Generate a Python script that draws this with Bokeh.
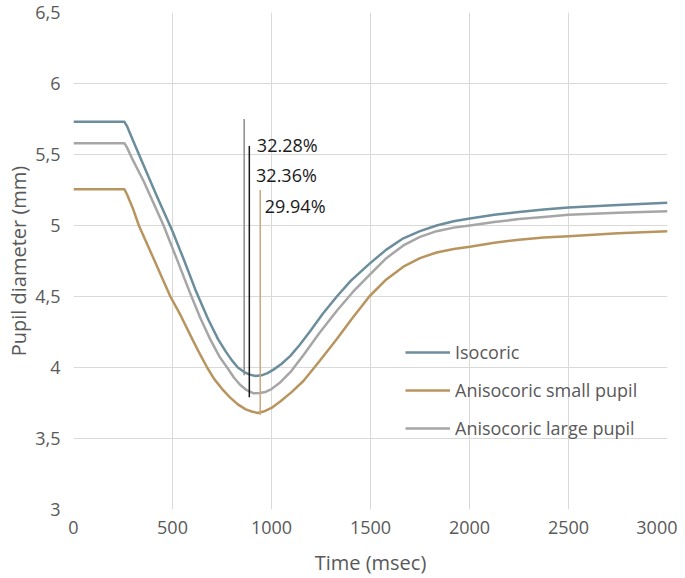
from bokeh.plotting import figure
from bokeh.models import Legend, LegendItem, FixedTicker, ColumnDataSource
from bokeh.core.properties import value
from bokeh.embed import file_html
from bokeh.resources import INLINE

# ---- data ----
iso_t = [0, 257, 270, 300, 355, 420, 500, 560, 615, 680, 730, 770, 800, 830, 860, 890, 920, 950, 980, 1010, 1050,
         1094, 1140, 1195, 1260, 1330, 1400, 1494, 1580, 1666, 1750, 1834, 1920, 2002, 2125, 2250, 2375, 2500, 2750, 3000]
iso_v = [5.73, 5.73, 5.70, 5.60, 5.42, 5.21, 4.96, 4.75, 4.55, 4.34, 4.20, 4.11, 4.05, 4.00, 3.97, 3.95, 3.94, 3.945, 3.96, 3.985, 4.025,
         4.08, 4.155, 4.255, 4.38, 4.50, 4.61, 4.73, 4.83, 4.91, 4.96, 5.00, 5.03, 5.05, 5.075, 5.095, 5.112, 5.127, 5.145, 5.16]

small_t = [0, 257, 270, 300, 330, 410, 489, 540, 600, 640, 675, 710, 750, 790, 830, 870, 900, 930, 960, 1000, 1044,
           1100, 1161, 1240, 1330, 1410, 1494, 1580, 1666, 1750, 1834, 1920, 2002, 2125, 2250, 2375, 2500, 2750, 3000]
small_v = [5.255, 5.255, 5.22, 5.12, 5.0, 4.75, 4.5, 4.37, 4.2, 4.09, 4.0, 3.92, 3.85, 3.79, 3.74, 3.705, 3.69, 3.68, 3.69, 3.715, 3.76,
           3.825, 3.905, 4.04, 4.20, 4.35, 4.50, 4.62, 4.71, 4.77, 4.81, 4.835, 4.85, 4.878, 4.90, 4.915, 4.925, 4.945, 4.96]

large_t = [0, 257, 270, 300, 355, 455, 520, 590, 640, 690, 740, 776, 810, 840, 870, 910, 940, 970, 1000, 1040,
           1100, 1160, 1240, 1330, 1410, 1494, 1580, 1666, 1750, 1834, 1920, 2002, 2125, 2250, 2375, 2500, 2750, 3000]
large_v = [5.58, 5.58, 5.55, 5.46, 5.31, 5.0, 4.77, 4.52, 4.35, 4.20, 4.07, 4.00, 3.93, 3.88, 3.845, 3.818, 3.82, 3.828, 3.848, 3.89,
           3.975, 4.085, 4.24, 4.40, 4.53, 4.65, 4.77, 4.86, 4.92, 4.96, 4.985, 5.0, 5.025, 5.045, 5.06, 5.075, 5.09, 5.10]

series_names = ["Isocoric", "Anisocoric small pupil", "Anisocoric large pupil"]
series_colors = ["#6b8d9c", "#b8955e", "#a6a6a6"]

# annotation markers: time, top, bottom, colour
mark_t = [862, 888, 943]
mark_top = [5.75, 5.56, 5.25]
mark_bottom = [3.945, 3.79, 3.665]
mark_colors = ["#8c8c8c", "#1a1a1a", "#c9a77c"]

# percentage labels
pct_text = ["32.28%", "32.36%", "29.94%"]
pct_x = [926, 922, 966]
pct_y = [5.565, 5.355, 5.14]

x_ticks = [0, 500, 1000, 1500, 2000, 2500, 3000]
y_ticks = [3, 3.5, 4, 4.5, 5, 5.5, 6, 6.5]
y_tick_labels = ["3", "3,5", "4", "4,5", "5", "5,5", "6", "6,5"]

FONT = "Open Sans"
TXT = "#595959"

p = figure(width=677, height=578, x_range=(0, 3000), y_range=(3, 6.5),
           output_backend="svg", toolbar_location=None,
           min_border_left=73, min_border_right=10, min_border_top=12, min_border_bottom=68)

p.outline_line_color = None
p.background_fill_color = "white"
p.border_fill_color = "white"

for ax in (p.xaxis[0], p.yaxis[0]):
    ax.axis_line_color = None
    ax.major_tick_line_color = None
    ax.minor_tick_line_color = None
    ax.major_tick_out = 0
    ax.major_tick_in = 0
    ax.minor_tick_out = 0
    ax.major_label_text_font = FONT
    ax.major_label_text_font_size = "18px"
    ax.major_label_text_color = TXT
    ax.axis_label_text_font = FONT
    ax.axis_label_text_font_size = "20px"
    ax.axis_label_text_color = TXT
    ax.axis_label_text_font_style = "normal"

p.xaxis.ticker = FixedTicker(ticks=x_ticks)
p.yaxis.ticker = FixedTicker(ticks=y_ticks)
p.yaxis.major_label_overrides = {t: l for t, l in zip(y_ticks, y_tick_labels)}
p.xaxis.axis_label = "Time (msec)"
p.yaxis.axis_label = "Pupil diameter (mm)"
p.xaxis.major_label_standoff = 11
p.yaxis.major_label_standoff = 13
p.xaxis.axis_label_standoff = 12
p.yaxis.axis_label_standoff = 0

p.xgrid.grid_line_color = "#d9d9d9"
p.ygrid.grid_line_color = "#d9d9d9"
p.xgrid.grid_line_width = 1
p.ygrid.grid_line_width = 1

renderers = []
for t, v, c in zip([iso_t, small_t, large_t], [iso_v, small_v, large_v], series_colors):
    r = p.line(t, v, line_color=c, line_width=2.5, line_join="round")
    renderers.append(r)

p.segment(x0=mark_t, y0=mark_top, x1=mark_t, y1=mark_bottom, line_color=mark_colors, line_width=1.5)

src = ColumnDataSource(dict(x=pct_x, y=pct_y, text=pct_text))
p.text(x="x", y="y", text="text", source=src, text_font=value(FONT), text_font_size="18px",
       text_color="#1a1a1a", text_baseline="middle", text_align="left")

legend = Legend(items=[LegendItem(label=n, renderers=[r]) for n, r in zip(series_names, renderers)],
                location=(332, 69), orientation="vertical")
legend.background_fill_alpha = 0
legend.border_line_color = None
legend.label_text_font = FONT
legend.label_text_font_size = "18px"
legend.label_text_color = TXT
legend.glyph_width = 45
legend.glyph_height = 24
legend.label_height = 24
legend.label_standoff = 5
legend.spacing = 14
legend.padding = 0
legend.margin = 0
p.add_layout(legend, "center")

open("out.html", "w").write(file_html(p, INLINE))
